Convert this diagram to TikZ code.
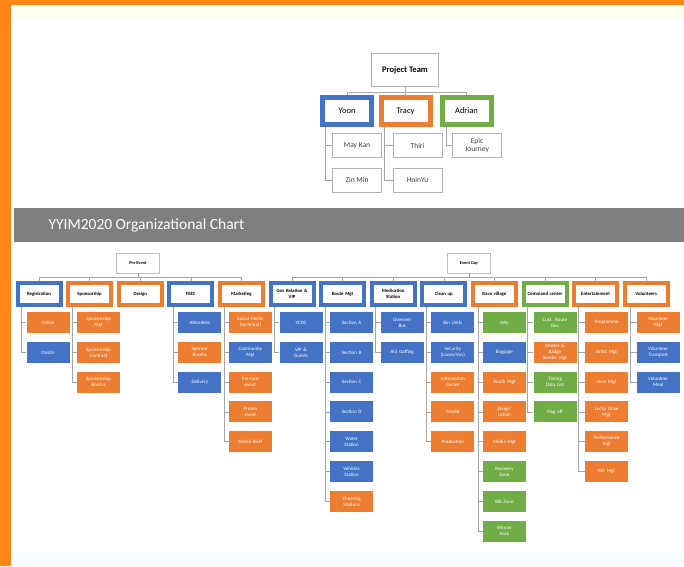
\documentclass[tikz,border=0pt]{standalone}
\usepackage{fontspec}
\setmainfont{Carlito}
\usetikzlibrary{calc,positioning}

\definecolor{ppblue}{HTML}{4472C4}
\definecolor{pporange}{HTML}{ED7D31}
\definecolor{ppgreen}{HTML}{70AD47}
\definecolor{rimorange}{HTML}{FF8514}
\definecolor{bandgray}{HTML}{7F7F7F}

\tikzset{
    link/.style={draw=gray!70, line width=0.6pt},
    head/.style={draw=gray!60, line width=0.8pt, fill=white, minimum width=67pt, minimum height=33pt, font=\bfseries\fontsize{8.5}{9}\selectfont},
    lead/.style={draw=#1, line width=5pt, fill=white, minimum width=49pt, minimum height=27pt, inner sep=0pt, font=\fontsize{8.5}{9}\selectfont},
    member/.style={draw=gray!60, line width=0.8pt, fill=white, minimum width=49pt, minimum height=24pt, inner sep=1pt, align=center, text=black!75, font=\fontsize{7.5}{8}\selectfont},
    phase/.style={draw=gray!50, line width=0.6pt, fill=white, minimum width=43pt, minimum height=20pt, inner sep=0pt, font=\bfseries\fontsize{4.4}{5}\selectfont},
    team/.style={draw=#1, line width=4pt, fill=white, minimum width=43pt, minimum height=22pt, inner sep=0pt, text width=40pt, align=center, font=\bfseries\fontsize{4.8}{5.4}\selectfont},
    task/.style={fill=#1, minimum width=43pt, minimum height=21pt, inner sep=0pt, text width=40pt, align=center, text=white, font=\fontsize{5}{6}\selectfont}
}

\begin{document}
\begin{tikzpicture}[x=1pt, y=-1pt]
    \useasboundingbox (0,0) rectangle (684,566);
    \fill[white] (0,0) rectangle (684,566);
    \fill[yellow!4] (11,5) rectangle (684,20);
    \fill[cyan!3] (11,553) rectangle (684,566);
    \fill[rimorange] (0,0) rectangle (11,566);
    \fill[rimorange] (0,0) rectangle (684,5);

    % project team
    \node[head] (pt) at (405, 70) {Project Team};
    \node[lead=ppblue] (yoon) at (347, 111) {Yoon};
    \node[lead=pporange] (tracy) at (405.5, 111) {Tracy};
    \node[lead=ppgreen] (adrian) at (466.5, 111) {Adrian};
    \node[member] (maykan) at (357, 145.5) {May Kan};
    \node[member] (zinmin) at (357, 180) {Zin Min};
    \node[member] (thiri) at (417.5, 145.5) {Thiri};
    \node[member] (hninyu) at (417.5, 180) {HninYu};
    \node[member] (epic) at (477, 145.5) {Epic\\Journey};

    \foreach \n in {yoon, tracy, adrian}
        \draw[link] (pt.south) -- ++(0,5) -| (\n.north);
    \draw[link] ($(yoon.south west)+(5,0)$) |- (maykan.west);
    \draw[link] ($(yoon.south west)+(5,0)$) |- (zinmin.west);
    \draw[link] ($(tracy.south west)+(6,0)$) |- (thiri.west);
    \draw[link] ($(tracy.south west)+(6,0)$) |- (hninyu.west);
    \draw[link] ($(adrian.south west)+(7,0)$) |- (epic.west);

    % title band
    \fill[bandgray] (14,208) rectangle (684,242);
    \node[anchor=west, text=white, font=\fontsize{15.5}{17}\selectfont] (title) at (45,225) {YYIM2020 Organizational Chart};

    % phases and teams
    \node[phase] (pre) at (138, 263) {Pre Event};
    \node[phase] (day) at (469, 263) {Event Day};

    \foreach \n/\t/\c [count=\i from 0] in {reg/Registration/ppblue, spon/Sponsorship/pporange, des/Design/pporange, feec/FEEC/ppblue, mkt/Marketing/pporange}
        \node[team=\c] (\n) at (39+50.6*\i, 294) {\t};
    \foreach \n/\t/\c [count=\i from 5] in {gov/{Gov Relation \&\\VIP}/ppblue, route/Route Mgt/ppblue, med/{Medication\\Station}/ppblue, clean/Clean up/ppblue, race/Race village/pporange, cmd/Command center/ppgreen, ent/Entertainment/pporange, vol/Volunteers/pporange}
        \node[team=\c] (\n) at (39+50.6*\i, 294) {\t};

    \foreach \n in {reg, spon, des, feec, mkt}
        \draw[link] (pre.south) -- ++(0,4) -| (\n.north);
    \foreach \n in {gov, route, med, clean, race, cmd, ent, vol}
        \draw[link] (day.south) -- ++(0,4) -| (\n.north);

    % tasks under each team
    \foreach \t/\c [count=\k from 0] in {Online/pporange, Onsite/ppblue} {
        \node[task=\c] (reg-\k) at ($(reg)+(9,28.5+29.8*\k)$) {\t};
        \draw[link] ($(reg.south west)+(6,0)$) |- (reg-\k.west);
    }
    \foreach \t/\c [count=\k from 0] in {{Sponsorship\\Mgt}/pporange, {Sponsorship\\Contract}/pporange, {Sponsorship\\Booths}/pporange} {
        \node[task=\c] (spon-\k) at ($(spon)+(9,28.5+29.8*\k)$) {\t};
        \draw[link] ($(spon.south west)+(6,0)$) |- (spon-\k.west);
    }
    \foreach \t/\c [count=\k from 0] in {Attendees/ppblue, {Sponsor\\Booths}/pporange, Delivery/ppblue} {
        \node[task=\c] (feec-\k) at ($(feec)+(9,28.5+29.8*\k)$) {\t};
        \draw[link] ($(feec.south west)+(6,0)$) |- (feec-\k.west);
    }
    \foreach \t/\c [count=\k from 0] in {{Social Media\\(technical)}/pporange, {Community\\Mgt}/ppblue, {Pre-race\\event}/pporange, {Promo\\event}/pporange, Media Brief/pporange} {
        \node[task=\c] (mkt-\k) at ($(mkt)+(9,28.5+29.8*\k)$) {\t};
        \draw[link] ($(mkt.south west)+(6,0)$) |- (mkt-\k.west);
    }
    \foreach \t/\c [count=\k from 0] in {YCDC/ppblue, {VIP \&\\Guests}/ppblue} {
        \node[task=\c] (gov-\k) at ($(gov)+(9,28.5+29.8*\k)$) {\t};
        \draw[link] ($(gov.south west)+(6,0)$) |- (gov-\k.west);
    }
    \foreach \t/\c [count=\k from 0] in {Section A/ppblue, Section B/ppblue, Section C/ppblue, Section D/ppblue, {Water\\Station}/ppblue, {Vehicles\\Station}/ppblue, {Cheering\\Stations}/pporange} {
        \node[task=\c] (route-\k) at ($(route)+(9,28.5+29.8*\k)$) {\t};
        \draw[link] ($(route.south west)+(6,0)$) |- (route-\k.west);
    }
    \foreach \t/\c [count=\k from 0] in {{Overseer\\Bus}/ppblue, Aid staffing/ppblue} {
        \node[task=\c] (med-\k) at ($(med)+(9,28.5+29.8*\k)$) {\t};
        \draw[link] ($(med.south west)+(6,0)$) |- (med-\k.west);
    }
    \foreach \t/\c [count=\k from 0] in {Bin Units/ppblue, {Security\\(Loose/Vns)}/ppblue, {Information\\Center}/pporange, Media/pporange, Production/pporange} {
        \node[task=\c] (clean-\k) at ($(clean)+(9,28.5+29.8*\k)$) {\t};
        \draw[link] ($(clean.south west)+(6,0)$) |- (clean-\k.west);
    }
    \foreach \t/\c [count=\k from 0] in {Info/ppgreen, Baggage/ppblue, Booth Mgt/pporange, {Drugs/\\Lotion}/pporange, Media Mgt/pporange, {Recovery\\Zone}/ppgreen, Bib Zone/ppgreen, {Winner\\Area}/ppgreen} {
        \node[task=\c] (race-\k) at ($(race)+(10,28.5+29.8*\k)$) {\t};
        \draw[link] ($(race.south west)+(7,0)$) |- (race-\k.west);
    }
    \foreach \t/\c [count=\k from 0] in {{Cust. Route\\Dev}/ppgreen, {Master \&\\Badge\\Sender mgt}/pporange, {Timing\\Data List}/ppgreen, Flag off/ppgreen} {
        \node[task=\c] (cmd-\k) at ($(cmd)+(10,28.5+29.8*\k)$) {\t};
        \draw[link] ($(cmd.south west)+(6,0)$) |- (cmd-\k.west);
    }
    \foreach \t/\c [count=\k from 0] in {Programme/pporange, Artist Mgt/pporange, Host Mgt/pporange, {Lucky Draw\\Mgt}/pporange, {Performance\\mgt}/pporange, MC Mgt/pporange} {
        \node[task=\c] (ent-\k) at ($(ent)+(11,28.5+29.8*\k)$) {\t};
        \draw[link] ($(ent.south west)+(6,0)$) |- (ent-\k.west);
    }
    \foreach \t/\c [count=\k from 0] in {{Volunteer\\Mgt}/pporange, {Volunteer\\Transport}/ppblue, {Volunteer\\Meal}/ppblue} {
        \node[task=\c] (vol-\k) at ($(vol)+(12,28.5+29.8*\k)$) {\t};
        \draw[link] ($(vol.south west)+(8,0)$) |- (vol-\k.west);
    }
\end{tikzpicture}
\end{document}
